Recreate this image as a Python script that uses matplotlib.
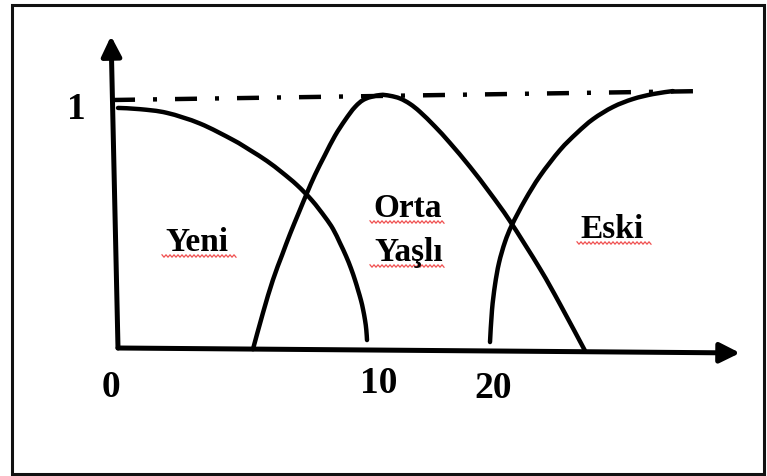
import matplotlib
matplotlib.use("Agg")
import matplotlib.pyplot as plt
from matplotlib.patches import Rectangle, PathPatch
from matplotlib.path import Path
import numpy as np

plt.rcParams['font.family'] = ['Liberation Serif', 'DejaVu Serif']

# membership curves (x = age, y = membership)
yeni_x = [0.0, 0.884, 1.968, 3.293, 4.618, 5.301, 5.984, 6.586, 7.189, 7.791, 8.313, 8.635,
          8.916, 9.157, 9.357, 9.518, 9.639, 9.759, 9.839, 9.920, 9.972, 10.0]
yeni_y = [0.968, 0.963, 0.948, 0.905, 0.839, 0.798, 0.754, 0.708, 0.657, 0.595, 0.528, 0.480,
          0.423, 0.371, 0.321, 0.274, 0.234, 0.192, 0.157, 0.113, 0.073, 0.032]

orta_x = [5.42, 5.82, 6.22, 6.59, 6.91, 7.27, 7.59, 7.91, 8.31, 8.71, 9.12, 9.52, 9.92,
          10.52, 10.92, 11.33, 11.73, 12.13, 12.73, 13.33, 14.14, 14.94, 15.74, 16.95,
          17.75, 18.76]
orta_y = [-0.005, 0.141, 0.274, 0.375, 0.460, 0.548, 0.625, 0.698, 0.778, 0.855, 0.919,
          0.972, 1.004, 1.020, 1.017, 1.006, 0.984, 0.952, 0.893, 0.827, 0.730, 0.625,
          0.512, 0.319, 0.177, -0.012]

eski_x = [14.94, 15.02, 15.14, 15.30, 15.54, 15.82, 16.35, 16.95, 17.75, 18.43, 19.08,
          19.88, 20.68, 21.49, 22.29]
eski_y = [0.024, 0.153, 0.254, 0.343, 0.427, 0.496, 0.597, 0.694, 0.798, 0.867, 0.923,
          0.972, 1.004, 1.024, 1.036]

ref_x = [-0.2, 23.49]     # dash-dot "1" level
ref_y = [1.0, 1.036]

xaxis_x = [0.0, 24.98]
xaxis_y = [0.0, -0.020]
yaxis_x = [0.0, -0.28]
yaxis_y = [0.0, 1.258]

tick_labels = ['0', '10', '20']
tick_pos = [(-0.28, -0.198), (10.48, -0.181), (15.06, -0.202)]
words = ['Yeni', 'Orta', 'Yaşlı', 'Eski']


def px(x, y):
    # picture pixel -> data coordinates
    return (x - 118) / 24.9, (348 - y) / 248


def smooth(xs, ys):
    # bezier path through the read points
    p = np.column_stack([xs, ys])
    verts = [p[0]]
    codes = [Path.MOVETO]
    for i in range(len(p) - 1):
        p0 = p[i - 1] if i > 0 else p[i]
        p3 = p[i + 2] if i + 2 < len(p) else p[i + 1]
        verts += [p[i] + (p[i + 1] - p0) / 6, p[i + 1] - (p3 - p[i]) / 6, p[i + 1]]
        codes += [Path.CURVE4] * 3
    return Path(verts, codes)


fig = plt.figure(figsize=(7.67, 4.76), dpi=100)
ax = fig.add_axes([0, 0, 1, 1])
ax.set_xlim(-118 / 24.9, 649 / 24.9)
ax.set_ylim((348 - 476) / 248, 348 / 248)
ax.axis('off')

# outer frame
fig.add_artist(Rectangle((12 / 767, 2 / 476), 752 / 767, 469 / 476, transform=fig.transFigure,
                         fill=False, edgecolor='#111111', linewidth=2.2))

# axes with arrows
arr = dict(arrowstyle='-|>,head_length=0.6,head_width=0.3', color='black', lw=3.6,
           shrinkA=0, shrinkB=0, mutation_scale=20)
ax.annotate('', xy=(xaxis_x[1], xaxis_y[1]), xytext=(xaxis_x[0], xaxis_y[0]), arrowprops=arr)
ax.annotate('', xy=(yaxis_x[1], yaxis_y[1]), xytext=(yaxis_x[0], yaxis_y[0]), arrowprops=arr)

# curves
for xs, ys in [(yeni_x, yeni_y), (orta_x, orta_y), (eski_x, eski_y)]:
    ax.add_patch(PathPatch(smooth(xs, ys), fill=False, edgecolor='black', lw=3.2,
                           capstyle='round', joinstyle='round'))

ax.plot(ref_x, ref_y, color='black', lw=3.2, dashes=(4.95, 4.05, 0.9, 4.05),
        dash_capstyle='butt')

# labels
bold = dict(fontweight='bold', color='black', ha='center', va='baseline')
ax.text(-1.69, 0.923, '1', fontsize=27, **bold)
for lab, (tx, ty) in zip(tick_labels, tick_pos):
    ax.text(tx, ty, lab, fontsize=27, **bold)

word_pos = [(197, 251), (408, 217), (409, 261), (612, 238)]
for w, (wx, wy) in zip(words, word_pos):
    ax.text(*px(wx, wy), w, fontsize=24, **bold)

# red spell-check squiggles under the words
squig = [(162, 237, 256), (370, 445, 222), (370, 445, 266), (577, 652, 243)]
for x0, x1, yy in squig:
    sx = np.arange(x0, x1 + 1, 2)
    sy = yy + np.where(np.arange(len(sx)) % 2 == 0, -1.2, 1.2)
    ux, uy = px(sx, sy)
    ax.plot(ux, uy, color='#f05050', lw=0.9)

fig.savefig('out.png', dpi=100)
